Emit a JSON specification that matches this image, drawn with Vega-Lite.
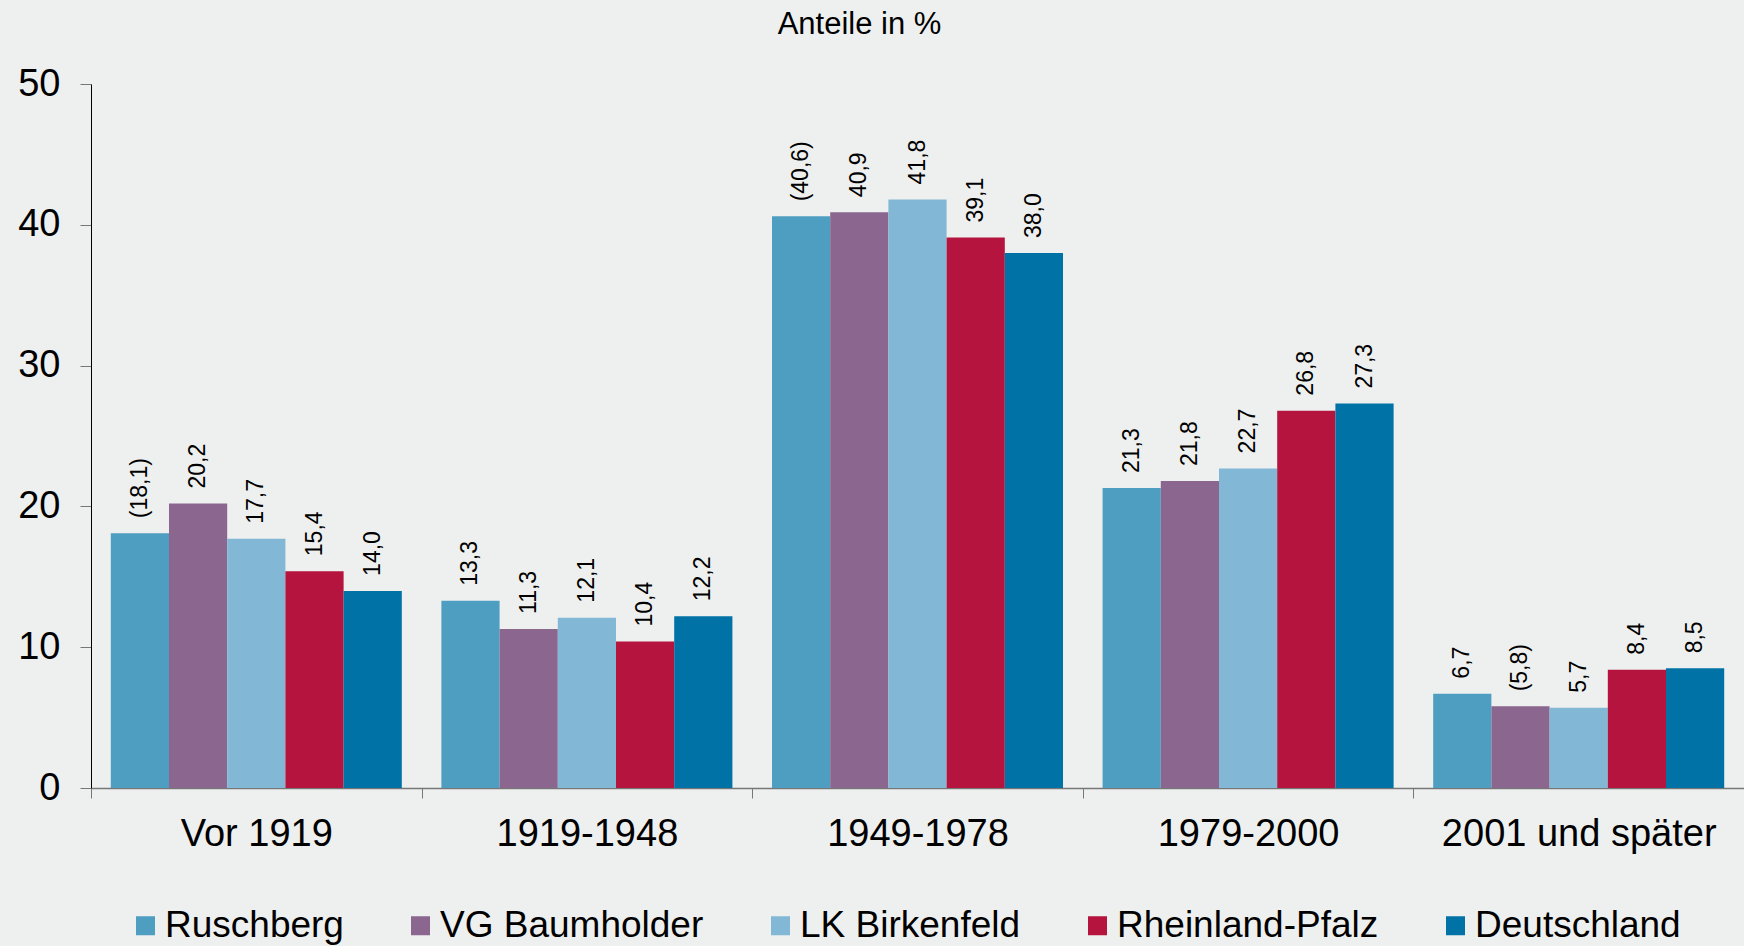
{
  "$schema": "https://vega.github.io/schema/vega-lite/v6.json",
  "width": 1653,
  "height": 704,
  "autosize": {"type": "none"},
  "padding": {"left": 91, "top": 84, "right": 0, "bottom": 158},
  "background": "#EEF0EF",
  "config": {"view": {"stroke": null}, "font": "Liberation Sans"},
  "data": {"values": [
    {"period": "Vor 1919", "region": "Ruschberg", "value": 18.1, "label": "(18,1)"},
    {"period": "Vor 1919", "region": "VG Baumholder", "value": 20.2, "label": "20,2"},
    {"period": "Vor 1919", "region": "LK Birkenfeld", "value": 17.7, "label": "17,7"},
    {"period": "Vor 1919", "region": "Rheinland-Pfalz", "value": 15.4, "label": "15,4"},
    {"period": "Vor 1919", "region": "Deutschland", "value": 14.0, "label": "14,0"},
    {"period": "1919-1948", "region": "Ruschberg", "value": 13.3, "label": "13,3"},
    {"period": "1919-1948", "region": "VG Baumholder", "value": 11.3, "label": "11,3"},
    {"period": "1919-1948", "region": "LK Birkenfeld", "value": 12.1, "label": "12,1"},
    {"period": "1919-1948", "region": "Rheinland-Pfalz", "value": 10.4, "label": "10,4"},
    {"period": "1919-1948", "region": "Deutschland", "value": 12.2, "label": "12,2"},
    {"period": "1949-1978", "region": "Ruschberg", "value": 40.6, "label": "(40,6)"},
    {"period": "1949-1978", "region": "VG Baumholder", "value": 40.9, "label": "40,9"},
    {"period": "1949-1978", "region": "LK Birkenfeld", "value": 41.8, "label": "41,8"},
    {"period": "1949-1978", "region": "Rheinland-Pfalz", "value": 39.1, "label": "39,1"},
    {"period": "1949-1978", "region": "Deutschland", "value": 38.0, "label": "38,0"},
    {"period": "1979-2000", "region": "Ruschberg", "value": 21.3, "label": "21,3"},
    {"period": "1979-2000", "region": "VG Baumholder", "value": 21.8, "label": "21,8"},
    {"period": "1979-2000", "region": "LK Birkenfeld", "value": 22.7, "label": "22,7"},
    {"period": "1979-2000", "region": "Rheinland-Pfalz", "value": 26.8, "label": "26,8"},
    {"period": "1979-2000", "region": "Deutschland", "value": 27.3, "label": "27,3"},
    {"period": "2001 und später", "region": "Ruschberg", "value": 6.7, "label": "6,7"},
    {"period": "2001 und später", "region": "VG Baumholder", "value": 5.8, "label": "(5,8)"},
    {"period": "2001 und später", "region": "LK Birkenfeld", "value": 5.7, "label": "5,7"},
    {"period": "2001 und später", "region": "Rheinland-Pfalz", "value": 8.4, "label": "8,4"},
    {"period": "2001 und später", "region": "Deutschland", "value": 8.5, "label": "8,5"}
  ]},
  "encoding": {
    "x": {
      "field": "period", "type": "nominal",
      "sort": ["Vor 1919", "1919-1948", "1949-1978", "1979-2000", "2001 und später"],
      "scale": {"paddingInner": 0, "paddingOuter": 0},
      "axis": {"title": null, "labelAngle": 0, "labelFontSize": 38, "labelColor": "#000000",
               "labelLimit": 0,
               "tickBand": "extent", "domainColor": "#777777", "tickColor": "#777777",
               "tickSize": 10, "labelPadding": 17, "labelBaseline": "top", "domainWidth": 1.5}
    },
    "xOffset": {
      "field": "region", "type": "nominal",
      "sort": ["Ruschberg", "VG Baumholder", "LK Birkenfeld", "Rheinland-Pfalz", "Deutschland"],
      "scale": {"paddingInner": 0, "paddingOuter": 0.34}
    },
    "y": {
      "field": "value", "type": "quantitative",
      "scale": {"domain": [0, 50], "nice": false},
      "axis": {"values": [0, 10, 20, 30, 40, 50], "grid": false, "domainColor": "#000000",
               "tickColor": "#777777", "tickSize": 11, "labelFontSize": 38, "labelPadding": 20,
               "labelColor": "#000000",
               "title": "Anteile in %", "titleAngle": 0, "titleX": 768, "titleY": -60,
               "titleFontSize": 31, "titleFontWeight": "normal", "titleAlign": "center",
               "titleBaseline": "middle", "titleColor": "#000000"}
    }
  },
  "layer": [
    {
      "mark": {"type": "bar"},
      "encoding": {
        "color": {
          "field": "region", "type": "nominal",
          "sort": ["Ruschberg", "VG Baumholder", "LK Birkenfeld", "Rheinland-Pfalz", "Deutschland"],
          "scale": {"domain": ["Ruschberg", "VG Baumholder", "LK Birkenfeld", "Rheinland-Pfalz", "Deutschland"],
                    "range": ["#4E9EC1", "#8B668F", "#82B8D5", "#B4143D", "#0072A6"]},
          "legend": {"orient": "none", "legendX": 36, "legendY": 823, "direction": "horizontal",
                     "title": null, "symbolType": "square", "symbolSize": 361, "labelFontSize": 37,
                     "labelLimit": 0,
                     "labelOffset": 1, "columnPadding": 58, "symbolStrokeWidth": 0, "padding": 0,
                     "labelColor": "#000000"}
        }
      }
    },
    {
      "mark": {"type": "text", "angle": 270, "align": "left", "baseline": "middle", "dx": 15, "fontSize": 23, "color": "#000000"},
      "encoding": {"text": {"field": "label"}}
    }
  ]
}
